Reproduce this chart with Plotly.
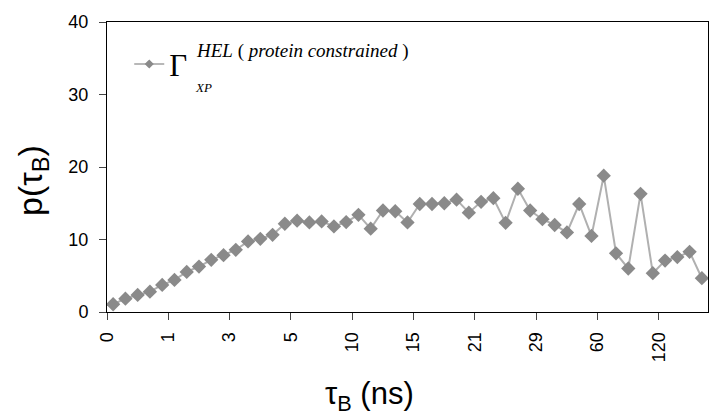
import numpy as np
import plotly.graph_objects as go

values = [1.07, 1.84, 2.35, 2.81, 3.73, 4.43, 5.53, 6.27, 7.19, 7.84,
          8.57, 9.73, 10.1, 10.65, 12.17, 12.59, 12.36, 12.5, 11.8, 12.4,
          13.4, 11.5, 14.0, 13.9, 12.35, 14.9, 14.9, 15.0, 15.5, 13.7,
          15.2, 15.7, 12.3, 17.0, 14.0, 12.8, 12.0, 10.97, 14.9, 10.5,
          18.8, 8.1, 6.0, 16.3, 5.35, 7.1, 7.57, 8.3, 4.66]
tick_labels = ["0", "1", "3", "5", "10", "15", "21", "29", "60", "120"]
bins_per_label = 5

x = np.arange(len(values)) + 0.5
tickvals = [i * bins_per_label for i in range(len(tick_labels))]

SERIF = "Liberation Serif, Times New Roman, serif"
SANS = "Liberation Sans, Arial"

fig = go.Figure()
fig.add_trace(go.Scatter(
    x=x, y=values, mode="lines+markers", showlegend=False,
    line=dict(color="#b0b0b0", width=2),
    marker=dict(symbol="diamond", size=11, color="#8a8a8a"),
))
# legend-only entry (small symbol as in reference)
fig.add_trace(go.Scatter(
    x=[None], y=[None], mode="lines+markers", name="Γ",
    line=dict(color="#a0a0a0", width=1.5),
    marker=dict(symbol="diamond", size=7, color="#8a8a8a"),
))

fig.update_layout(
    width=710, height=415,
    margin=dict(l=107, r=2, t=22, b=103),
    paper_bgcolor="white", plot_bgcolor="white",
    font=dict(family=SANS, color="black"),
    showlegend=True,
    legend=dict(x=0.037, y=0.947, xanchor="left", yanchor="top",
                bgcolor="rgba(0,0,0,0)",
                font=dict(family=SERIF, size=31)),
    xaxis=dict(range=[0, len(values)], tickmode="array", tickvals=tickvals,
               ticktext=tick_labels, tickangle=-90, ticks="outside", ticklen=7,
               ticklabelstandoff=5,
               tickfont=dict(size=18), showline=True, linecolor="black",
               mirror=True, showgrid=False, zeroline=False),
    yaxis=dict(range=[0, 40], tickvals=[0, 10, 20, 30, 40], ticks="outside",
               ticklen=7, ticklabelstandoff=7, tickfont=dict(size=18), showline=True,
               linecolor="black", mirror=True, showgrid=False, zeroline=False),
)

# axis titles (placed as in the reference, off-centre)
fig.add_annotation(xref="paper", yref="paper", x=(369 - 107) / 601, y=(312 - 396) / 290,
                   xanchor="center", yanchor="middle", showarrow=False,
                   text="τ<sub>B</sub> (ns)", font=dict(family=SANS, size=31))
fig.add_annotation(xref="paper", yref="paper", x=(32 - 107) / 601, y=(312 - 181) / 290,
                   xanchor="center", yanchor="middle", showarrow=False, textangle=-90,
                   text="p(τ<sub>B</sub>)", font=dict(family=SANS, size=34))
# legend label super/subscripts
fig.add_annotation(xref="paper", yref="paper", x=(194 - 107) / 601, y=(312 - 51) / 290,
                   xanchor="left", yanchor="middle", showarrow=False,
                   text="<i>HEL</i> ( <i>protein constrained</i> )",
                   font=dict(family=SERIF, size=19))
fig.add_annotation(xref="paper", yref="paper", x=(193 - 107) / 601, y=(312 - 87) / 290,
                   xanchor="left", yanchor="middle", showarrow=False,
                   text="<i>XP</i>", font=dict(family=SERIF, size=13))

fig.write_html("out.html")
